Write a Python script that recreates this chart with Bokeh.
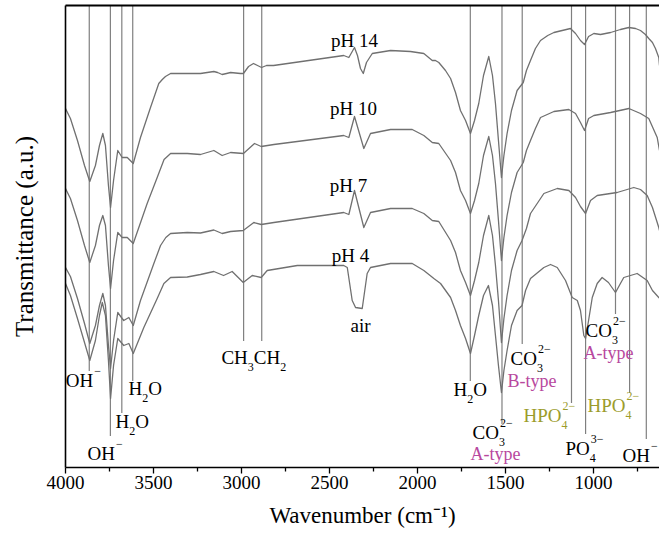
from bokeh.plotting import figure
from bokeh.models import Range1d, FixedTicker, LinearAxis, ColumnDataSource
from bokeh.core.properties import value
from bokeh.embed import file_html
from bokeh.resources import INLINE

# ---------------- data (wavenumber in cm-1, transmittance in a.u.) ----------------
wn_ph14 = [4000, 3972, 3932, 3892, 3862, 3830, 3807, 3788, 3773, 3756, 3744, 3727, 3703, 3678, 3649, 3615,
           3574, 3517, 3470, 3450, 3432, 3403, 3308, 3233, 3157, 3136, 3110, 3085, 3062, 3006, 2989, 2960, 2932,
           2909, 2886, 2858, 2818, 2419, 2390, 2358, 2341, 2324, 2308, 2290, 2257, 2153, 2040, 1964, 1916,
           1898, 1879, 1841, 1812, 1784, 1756, 1727, 1699, 1676, 1652, 1625, 1595, 1574, 1557, 1540, 1523,
           1509, 1491, 1466, 1434, 1399, 1381, 1358, 1330, 1301, 1260, 1225, 1131, 1102, 1074, 1051, 1028, 998,
           960, 903, 847, 799, 761, 733, 705, 686, 665, 648, 629, 625]
t_ph14 = [359, 349, 327, 302, 286, 302, 322, 334, 322, 282, 260, 287, 317, 310, 310, 304,
          330, 360, 384, 388, 391, 394, 394, 394, 396, 395, 393, 394, 395, 394, 394, 401, 404,
          402, 400, 402, 402, 412, 410, 420, 412, 399, 394, 405, 414, 417, 416, 414, 407,
          407, 405, 397, 389, 375, 357, 347, 334, 347, 364, 392, 411, 392, 364, 327, 290,
          312, 334, 357, 377, 385, 397, 407, 419, 427, 432, 435, 439, 434, 427, 423, 431, 434,
          433, 435, 438, 440, 439, 437, 433, 429, 425, 419, 410, 402]

wn_ph10 = [4000, 3972, 3932, 3892, 3862, 3830, 3807, 3788, 3773, 3756, 3744, 3727, 3703, 3678, 3649, 3615,
           3536, 3479, 3440, 3403, 3308, 3233, 3157, 3110, 3062, 2989, 2926, 2888, 2816, 2419, 2390, 2358, 2305,
           2267, 2153, 2030, 1964, 1916, 1879, 1812, 1784, 1756, 1727, 1699, 1676, 1652, 1625, 1595, 1574,
           1557, 1540, 1523, 1509, 1491, 1466, 1434, 1399, 1381, 1358, 1330, 1301, 1225, 1140, 1102, 1074,
           1051, 1028, 998, 903, 799, 733, 686, 638, 625]
t_ph10 = [279, 269, 247, 222, 205, 222, 242, 252, 242, 202, 179, 207, 235, 230, 230, 224,
          264, 290, 308, 314, 314, 313, 317, 312, 315, 314, 324, 321, 323, 332, 330, 351, 319,
          334, 338, 338, 332, 325, 324, 307, 295, 277, 267, 254, 267, 284, 312, 331, 312,
          284, 247, 207, 230, 252, 275, 295, 305, 317, 327, 339, 350, 356, 358, 354, 345,
          337, 349, 352, 355, 359, 354, 349, 330, 317]

wn_ph7 = [4000, 3972, 3932, 3892, 3862, 3830, 3807, 3788, 3773, 3756, 3744, 3727, 3703, 3678, 3669, 3640,
          3615, 3574, 3498, 3460, 3430, 3403, 3308, 3233, 3157, 3110, 3062, 2990, 2930, 2888, 2816, 2419, 2390,
          2358, 2305, 2267, 2153, 2030, 1964, 1916, 1879, 1812, 1784, 1756, 1727, 1699, 1676, 1652, 1625,
          1595, 1574, 1557, 1540, 1523, 1509, 1491, 1466, 1434, 1406, 1381, 1358, 1282, 1206, 1140, 1102,
          1074, 1045, 1017, 979, 866, 771, 733, 695, 665, 629, 625]
t_ph7 = [200, 191, 169, 144, 124, 142, 162, 174, 162, 122, 99, 127, 155, 149, 147, 150,
         142, 167, 204, 222, 230, 234, 235, 234.5, 237.5, 234, 236, 237, 245, 243, 245, 255, 253,
         277, 240, 255, 259, 259, 254, 247, 246, 227, 215, 197, 185, 172, 187, 205, 232,
         252, 232, 202, 167, 125, 149, 172, 197, 217, 227, 239, 254, 274, 279, 277, 270,
         261, 254, 267, 272, 275, 280, 278, 272, 260, 240, 237]

wn_ph4 = [4000, 3972, 3932, 3892, 3862, 3830, 3807, 3791, 3773, 3756, 3744, 3727, 3703, 3669, 3640, 3615,
          3555, 3479, 3441, 3403, 3308, 3233, 3157, 3102, 3053, 2990, 2939, 2888, 2854, 2683, 2419, 2399,
          2371, 2352, 2314, 2286, 2267, 2153, 2030, 1964, 1907, 1869, 1812, 1784, 1756, 1727, 1699, 1676,
          1652, 1625, 1597, 1574, 1557, 1540, 1523, 1509, 1491, 1466, 1434, 1406, 1386, 1358, 1282, 1244,
          1206, 1159, 1121, 1092, 1074, 1055, 1045, 1028, 1007, 979, 951, 915, 875, 847, 828, 752,
          695, 665, 629, 625]
t_ph4 = [184, 172, 149, 125, 107, 127, 152, 165, 152, 107, 69, 102, 129, 122, 124, 114,
         140, 169, 184, 190, 190.5, 193, 196, 192, 196, 185, 192, 190, 197, 202, 202, 200,
         167, 160, 159, 194, 200, 204, 204, 197, 189, 184, 170, 157, 142, 129, 114, 132,
         152, 172, 182, 162, 132, 102, 75, 97, 117, 142, 157, 162, 177, 189, 200, 203,
         200, 187, 170, 167, 157, 132, 129, 147, 170, 184, 190, 185, 175, 184, 190, 194,
         187, 177, 170, 169]

series_names = ["pH 14", "pH 10", "pH 7", "pH 4"]

# assigned bands (dotted guide lines) and the lower end of each guide
band_wn = [3865, 3745, 3680, 3618, 2988, 2885, 1700, 1520, 1405, 1125, 1045, 875, 795, 700]
band_end = [97, 32, 55, 87, 127, 127, 87, 44, 124, 65, 34, 154, 75, 29]

X_START, X_END = 4000, 625
Y_MIN, Y_MAX = 0, 462

SERIF = "Liberation Serif"
MAGENTA = "#b8489e"
OLIVE = "#9c9c2c"

p = figure(width=659, height=539, output_backend="svg", toolbar_location=None,
           x_range=Range1d(X_START, X_END), y_range=Range1d(Y_MIN, Y_MAX),
           min_border_left=65, min_border_right=0, min_border_top=5, min_border_bottom=72,
           x_axis_location=None, y_axis_location=None)
p.grid.visible = False
p.outline_line_color = None
p.background_fill_color = "white"
p.border_fill_color = "white"

# axes
xax = LinearAxis(ticker=FixedTicker(ticks=[4000, 3500, 3000, 2500, 2000, 1500, 1000],
                                    minor_ticks=[3750, 3250, 2750, 2250, 1750, 1250, 750]),
                 axis_label="Wavenumber (cm\u207b\u00b9)")
xax.axis_line_width = 1.6
xax.axis_line_color = "black"
xax.major_tick_in = 0
xax.major_tick_out = 6
xax.minor_tick_in = 0
xax.minor_tick_out = 4
xax.major_tick_line_width = 1.3
xax.minor_tick_line_width = 1.3
xax.major_label_text_font = SERIF
xax.major_label_text_font_size = "19px"
xax.major_label_text_color = "black"
xax.major_label_standoff = 2
xax.axis_label_text_font = SERIF
xax.axis_label_text_font_size = "23px"
xax.axis_label_text_font_style = "normal"
xax.axis_label_text_color = "black"
xax.axis_label_standoff = 11
p.add_layout(xax, "below")

yax = LinearAxis(ticker=FixedTicker(ticks=[]), axis_label="Transmittance (a.u.)")
yax.axis_line_width = 1.6
yax.axis_line_color = "black"
yax.major_tick_out = 0
yax.major_tick_in = 0
yax.minor_tick_out = 0
yax.major_label_standoff = 0
yax.axis_label_text_font = SERIF
yax.axis_label_text_font_size = "25px"
yax.axis_label_text_font_style = "normal"
yax.axis_label_text_color = "black"
yax.axis_label_standoff = 28
p.add_layout(yax, "left")

top = LinearAxis(ticker=FixedTicker(ticks=[]))
top.axis_line_width = 2
top.axis_line_color = "black"
top.major_tick_out = 0
top.major_tick_in = 0
top.minor_tick_out = 0
top.major_label_standoff = 0
p.add_layout(top, "above")

# dotted guides
p.segment(x0=band_wn, y0=band_end, x1=band_wn, y1=[Y_MAX] * len(band_wn),
          line_color="#000000", line_width=1.2, line_dash="1 1")

# spectra
for wn, t in [(wn_ph14, t_ph14), (wn_ph10, t_ph10), (wn_ph7, t_ph7), (wn_ph4, t_ph4)]:
    p.line(wn, t, line_color="#707070", line_width=1.3, line_join="round")

# ---------------- annotations ----------------
W = {'C': .667, 'O': .722, 'H': .722, 'P': .556, '2': .5, '3': .5, '4': .5,
     '\u2212': .564, 'A': .722, 'B': .667, '-': .333, 't': .278, 'y': .5, 'p': .5, 'e': .444, ' ': .25}


def tw(s, size):
    return sum(W.get(c, .5) for c in s) * size


rows = dict(x=[], y=[], text=[], xo=[], yo=[], fs=[], col=[], align=[])


def add(x, y, text, xo, yo, fs, col, align="left"):
    rows["x"].append(x)
    rows["y"].append(y)
    rows["text"].append(text)
    rows["xo"].append(xo)
    rows["yo"].append(yo)
    rows["fs"].append("%dpx" % fs)
    rows["col"].append(col)
    rows["align"].append(align)


def formula(x, y, parts, color="black", size=19, small=12):
    off = 0.0
    sub_x = None
    for txt, kind in parts:
        if kind == "n":
            add(x, y, txt, off, 0, size, color)
            off += tw(txt, size)
            sub_x = None
        elif kind == "sub":
            sub_x = off
            add(x, y, txt, off, 9, small, color)
            off += tw(txt, small)
        elif kind == "sup":
            sx = sub_x if sub_x is not None else off
            add(x, y, txt, sx + 1, -10, small, color)
            off = max(off, sx + 1 + tw(txt, small))


# pH labels
for name, (lx, ly) in zip(series_names, [(2358, 427), (2364, 359), (2392, 282), (2381, 212)]):
    add(lx, ly, name, 0, 0, 19, "black", "center")
add(2324, 142, "air", 0, 0, 19, "black", "center")

M = "\u2212"
formula(3998, 87, [("OH", "n"), (M, "sup")])
formula(3642, 79, [("H", "n"), ("2", "sub"), ("O", "n")])
formula(3716, 46, [("H", "n"), ("2", "sub"), ("O", "n")])
formula(3875, 14, [("OH", "n"), (M, "sup")])
formula(3114, 110, [("CH", "n"), ("3", "sub"), ("CH", "n"), ("2", "sub")])
formula(1795, 78, [("H", "n"), ("2", "sub"), ("O", "n")])
formula(1687, 35, [("CO", "n"), ("3", "sub"), ("2" + M, "sup")])
add(1699, 14, "A-type", 0, 0, 18, MAGENTA)
formula(1398, 52, [("HPO", "n"), ("4", "sub"), ("2" + M, "sup")], color=OLIVE)
formula(1159, 19, [("PO", "n"), ("4", "sub"), ("3" + M, "sup")])
formula(1034, 62, [("HPO", "n"), ("4", "sub"), ("2" + M, "sup")], color=OLIVE)
formula(835, 12, [("OH", "n"), (M, "sup")])
formula(1471, 109, [("CO", "n"), ("3", "sub"), ("2" + M, "sup")])
add(1489, 87, "B-type", 0, 0, 18, MAGENTA)
formula(1045, 137, [("CO", "n"), ("3", "sub"), ("2" + M, "sup")])
add(1057, 115, "A-type", 0, 0, 18, MAGENTA)

src = ColumnDataSource(rows)
p.text(x="x", y="y", text="text", x_offset="xo", y_offset="yo", source=src,
       text_font=value(SERIF), text_font_size="fs", text_color="col",
       text_align="align", text_baseline="middle")

open("out.html", "w").write(file_html(p, INLINE))
